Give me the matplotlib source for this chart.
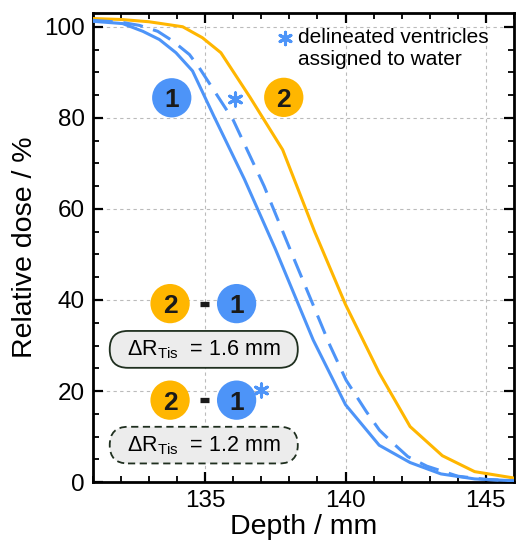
"""Depth-dose fall-off: tissue vs. ventricles assigned to water"""

import matplotlib
matplotlib.use("Agg")
import matplotlib.pyplot as plt
from matplotlib.patches import FancyBboxPatch
from matplotlib.ticker import MultipleLocator

plt.rcParams["font.family"] = ["Liberation Sans", "DejaVu Sans"]
plt.rcParams["mathtext.fontset"] = "custom"
plt.rcParams["mathtext.rm"] = "Liberation Sans"
plt.rcParams["mathtext.it"] = "Liberation Sans:italic"

YELLOW = "#FFB600"
BLUE = "#4D94F8"

# curve 2 (yellow, solid)
depth_2 = [131.0, 132.0, 133.0, 134.2, 134.9, 135.56, 136.6, 137.76,
           138.9, 140.0, 141.2, 142.3, 143.45, 144.6, 146.0]
dose_2 = [101.8, 101.6, 101.1, 100.0, 97.6, 94.3, 84.5, 73.0,
          55.0, 39.0, 24.0, 12.2, 5.8, 2.3, 0.9]

# curve 1 (blue, solid)
depth_1 = [131.0, 132.06, 132.78, 133.37, 133.96, 134.55, 135.3, 136.4,
           137.5, 138.85, 140.0, 141.2, 142.3, 143.4, 144.6, 146.0]
dose_1 = [101.2, 100.7, 99.0, 97.2, 94.3, 90.3, 80.5, 66.5,
          51.2, 31.2, 17.0, 8.1, 4.3, 1.8, 0.7, 0.3]

# curve 1* (blue, dashed) - ventricles assigned to water
depth_1s = [131.0, 132.0, 132.66, 133.31, 133.84, 134.44, 134.79, 136.0,
            137.1, 138.2, 139.44, 140.02, 140.74, 141.21, 141.63, 142.22,
            142.9, 144.0, 145.0, 146.0]
dose_1s = [101.4, 101.0, 100.3, 99.0, 96.9, 93.9, 91.0, 79.5,
           65.0, 48.5, 30.1, 22.4, 15.5, 11.4, 8.9, 5.6,
           3.5, 1.3, 0.6, 0.3]

range_shifts = ["1.6", "1.2"]

fig = plt.figure(figsize=(5.16, 5.46), dpi=100)
ax = fig.add_axes([0.180, 0.117, 0.816, 0.859])

ax.plot(depth_2, dose_2, color=YELLOW, lw=2.2, zorder=3)
ax.plot(depth_1, dose_1, color=BLUE, lw=2.2, zorder=3)
ax.plot(depth_1s, dose_1s, color=BLUE, lw=2.2, ls=(0, (6.5, 3.5)), zorder=3)

ax.set_xlim(131, 146)
ax.set_ylim(0, 103)
ax.xaxis.set_major_locator(MultipleLocator(5))
ax.xaxis.set_minor_locator(MultipleLocator(1))
ax.yaxis.set_major_locator(MultipleLocator(20))
ax.yaxis.set_minor_locator(MultipleLocator(5))
ax.tick_params(which="both", direction="in", top=True, right=True,
               labelsize=17.5, pad=6)
ax.tick_params(which="major", length=7, width=1.6)
ax.tick_params(which="minor", length=4, width=1.3)
for s in ax.spines.values():
    s.set_linewidth(2)
ax.grid(True, which="major", color="#bbbbbb", ls=(0, (3, 3)), lw=0.8)
ax.set_axisbelow(True)

ax.set_xlabel("Depth / mm", fontsize=20.5, labelpad=1)
ax.set_ylabel("Relative dose / %", fontsize=20.5, labelpad=4)


def badge(x, y, num, color):
    ax.scatter([x], [y], s=800, color=color, edgecolors="none", zorder=5)
    ax.text(x, y, num, ha="center", va="center_baseline", fontsize=19,
            fontweight="bold", color="#1a1a1a", zorder=6)


def star(x, y, size=90):
    ax.scatter([x], [y], s=size, marker=(6, 2, 0), color=BLUE, lw=2.2,
               zorder=6)


# labels on the curves
badge(133.81, 84.4, "1", BLUE)
badge(137.8, 84.5, "2", YELLOW)
star(136.07, 84.2)

# legend note
star(137.83, 97.6, 80)
ax.text(138.29, 95.3, "delineated ventricles\nassigned to water",
        ha="left", va="center", fontsize=15, linespacing=1.2)

# range difference panels
rows = [(39.2, 29.1, 25.1, 33.2, "solid", False),
        (18.0, 8.1, 4.1, 12.15, (0, (4, 2.5)), True)]
for (yb, yt, y0, y1, style, water), val in zip(rows, range_shifts):
    badge(133.75, yb, "2", YELLOW)
    ax.plot([134.83, 135.13], [yb, yb], color="#1a1a1a", lw=3.8,
            solid_capstyle="butt", zorder=6)
    badge(136.12, yb, "1", BLUE)
    if water:
        star(137.0, yb + 2.3)
    aspect = 28.1 / 4.55
    box = FancyBboxPatch((131.6, y0), 138.3 - 131.6, y1 - y0,
                         boxstyle="round,pad=0,rounding_size=0.65",
                         mutation_aspect=aspect, facecolor="#ececec",
                         edgecolor="#1f2f1f", lw=1.3, ls=style, zorder=4)
    ax.add_patch(box)
    ax.text(134.95, yt, r"$\Delta\mathrm{R}_{\mathrm{Tis}}$  = " + val + " mm",
            ha="center", va="center", fontsize=15.5, zorder=6)

fig.savefig("out.png", dpi=100)
